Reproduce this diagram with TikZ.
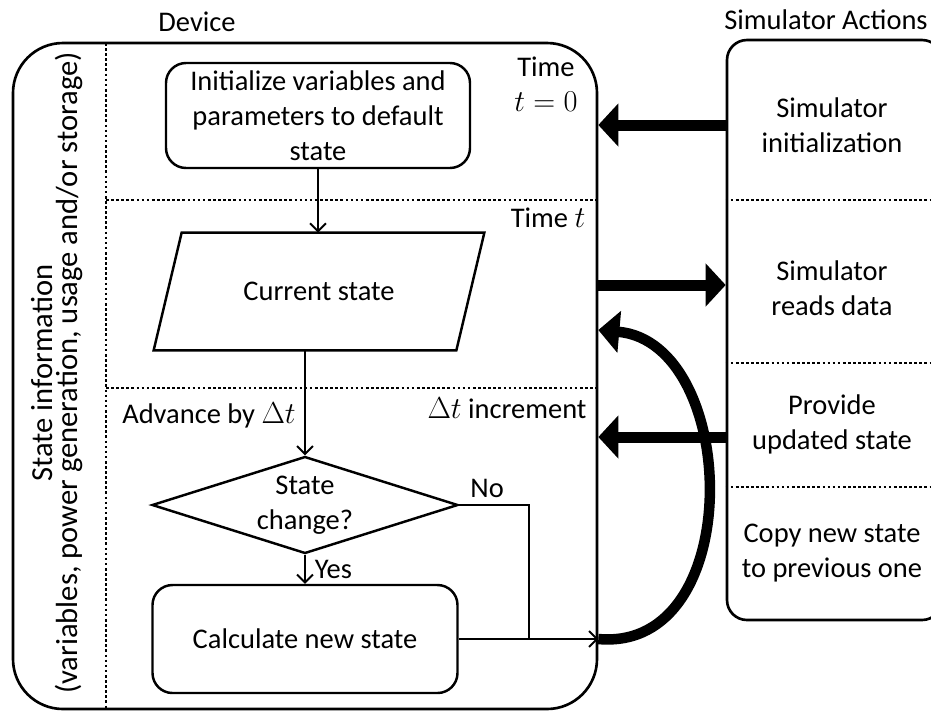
\documentclass[tikz,border=0pt]{standalone}
\usepackage{fontspec}
\setmainfont{Carlito}
\usepackage{amsmath}
\usetikzlibrary{arrows.meta, positioning, shapes.geometric, calc}

\begin{document}
\begin{tikzpicture}[
    font=\fontsize{16.2pt}{19.9pt}\selectfont,
    lane box/.style={draw, line width=1.5pt, inner sep=0pt},
    flow box/.style={draw, line width=1.4pt, rounded corners=0.4cm, align=center, inner sep=0pt},
    decision/.style={draw, diamond, line width=1.4pt, inner sep=0pt},
    link/.style={line width=1.1pt, -{Straight Barb[length=4.5pt, width=9pt]}},
    big arrow/.style={line width=0.22cm, -{Triangle[length=0.4cm, width=0.84cm]}},
    sep line/.style={line width=1.5pt, dash pattern=on 1.5pt off 1.4pt},
]
    \useasboundingbox (0,0) rectangle (18.62,-14.22);

    % Lanes
    \node[lane box, rounded corners=1cm, minimum width=11.68cm, minimum height=13.32cm] (device) at (6.10,-7.52) {};
    \node[lane box, rounded corners=0.4cm, minimum width=4.3cm, minimum height=11.6cm] (sim) at (16.69,-6.60) {};
    \node (devlbl) at (3.94,-0.44) {Device};
    \node (simlbl) at (16.52,-0.40) {Simulator Actions};

    % Dotted separators
    \draw[sep line] (2.12,-0.86) -- (2.12,-14.18);
    \draw[sep line] (2.12,-4.0) -- (device.east |- 0,-4.0);
    \draw[sep line] (2.12,-7.76) -- (device.east |- 0,-7.76);
    \draw[sep line] (sim.west |- 0,-4.0) -- (sim.east |- 0,-4.0);
    \draw[sep line] (sim.west |- 0,-7.26) -- (sim.east |- 0,-7.26);
    \draw[sep line] (sim.west |- 0,-9.74) -- (sim.east |- 0,-9.74);

    \node[rotate=90, align=center, font=\fontsize{17.4pt}{14.7pt}\selectfont] (info) at (1.14,-7.46)
        {State information\\(variables, power generation, usage and/or storage)};

    % Time labels
    \node[align=center] (t0) at (10.92,-1.68) {Time\\$t = 0$};
    \node (tt) at (10.96,-4.36) {Time $t$};
    \node (tinc) at (10.14,-8.16) {$\Delta t$ increment};
    \node (adv) at (4.18,-8.30) {Advance by $\Delta t$};

    % Flow
    \node[flow box, minimum width=6.08cm, minimum height=2.10cm] (init) at (6.36,-2.31)
        {Initialize variables and\\parameters to default\\state};
    \node[minimum width=6.6cm, minimum height=2.34cm, inner sep=0pt] (cur) at (6.38,-5.83) {Current state};
    \draw[line width=1.4pt] (cur.south west) -- ([xshift=-0.56cm]cur.south east)
        -- (cur.north east) -- ([xshift=0.56cm]cur.north west) -- cycle;
    \node[decision, minimum width=6.12cm, minimum height=1.94cm,
          label={[align=center]center:State\\change?}] (chg) at (6.10,-10.10) {};
    \node[flow box, minimum width=6.10cm, minimum height=2.16cm] (calc) at (6.10,-12.78) {Calculate new state};
    \coordinate (join) at (calc.east -| 10.58,0);

    \draw[link] (init.south) -- (init.south |- cur.north);
    \draw[link] (chg.north |- cur.south) -- (chg.north);
    \draw[link] (chg.south) -- node[right, inner sep=1pt, xshift=4pt] {Yes} (calc.north);
    \draw[line width=1.1pt] (chg.east) -| node[pos=0.2, above] {No} (join);
    \draw[link] (calc.east) -- (calc.east -| device.east);

    % Simulator actions
    \node[align=center] (sinit) at (16.64,-2.50) {Simulator\\initialization};
    \node[align=center] (sread) at (16.64,-5.76) {Simulator\\reads data};
    \node[align=center] (sprov) at (16.64,-8.48) {Provide\\updated state};
    \node[align=center] (scopy) at (16.64,-11.06) {Copy new state\\to previous one};

    \draw[big arrow] (sim.west |- 0,-2.5) -- (device.east |- 0,-2.5);
    \draw[big arrow] (device.east |- 0,-5.7) -- (sim.west |- 0,-5.7);
    \draw[big arrow] (sim.west |- 0,-8.74) -- (device.east |- 0,-8.74);
    \draw[line width=0.21cm, -{Triangle[length=0.42cm, width=0.82cm]}]
        (calc.east -| device.east) .. controls (14.95,-13.05) and (14.8,-6.85) .. (device.east |- 0,-6.6);
\end{tikzpicture}
\end{document}
